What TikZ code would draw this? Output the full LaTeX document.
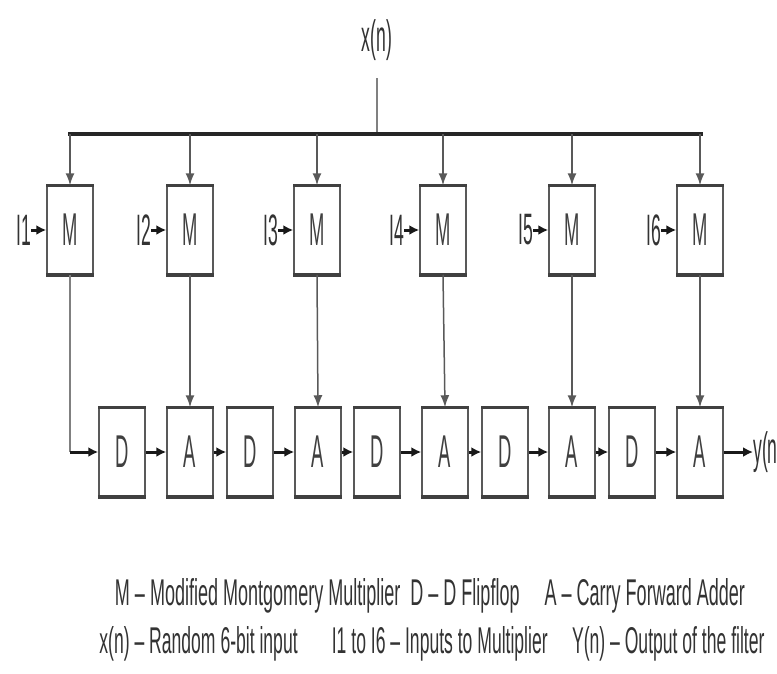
\documentclass[tikz,border=0pt]{standalone}
\usepackage{fontspec}
\setmainfont{Liberation Sans}[FakeStretch=0.4]
\usetikzlibrary{arrows.meta}
\begin{document}
\begin{tikzpicture}[x=1pt,y=-1pt,
  blk/.style={draw=black!65,line width=1.5pt,fill=white,minimum width=46pt,minimum height=88pt,inner sep=0pt,font=\fontsize{46}{48}\selectfont,text=black!75},
  lbl/.style={font=\fontsize{44}{46}\selectfont,text=black!80,inner sep=0pt},
  heavy/.style={line width=3pt,draw=black!90,-{Latex[length=10pt,width=10pt]}},
  slim/.style={line width=1.5pt,draw=black!65,-{Latex[length=12pt,width=9pt]}},
  wire/.style={line width=1.5pt,draw=black!50},
  edge/.style={line width=3.5pt,draw=black!75}
]
\useasboundingbox (0,0) rectangle (777,673);
% input
\node[lbl] (xn) at (377,40) {x(n)};
\coordinate (bl) at (68,134);
\coordinate (br) at (703,134);
\coordinate (bc) at (377,134);
\draw[wire] (377,78) -- (bc);
\draw[line width=3.5pt,black!85] (bl) -- (br);
% multipliers
\foreach \i/\x in {1/70,2/190,3/317,4/443,5/572,6/700}{
  \node[blk] (m\i) at (\x,230) {M};
  \draw[edge] (m\i.north west) -- (m\i.north east);
  \draw[edge] (m\i.south west) -- (m\i.south east);
  \coordinate (t\i) at (\x,134);
  \draw[slim] (t\i) -- (m\i.north);
  \node[lbl,anchor=east] (in\i) at (\x-39,230) {I\i};
  \draw[heavy] (in\i.east) -- (m\i.west);
}
% bottom row
\foreach \i/\x in {1/122,2/250,3/377,4/505,5/632}{
  \node[blk] (d\i) at (\x,452) {D};
  \draw[edge] (d\i.north west) -- (d\i.north east);
  \draw[edge] (d\i.south west) -- (d\i.south east);
}
\foreach \i/\x in {1/190,2/318,3/445,4/572,5/700}{
  \node[blk] (a\i) at (\x,452) {A};
  \draw[edge] (a\i.north west) -- (a\i.north east);
  \draw[edge] (a\i.south west) -- (a\i.south east);
}
% M1 to D1
\coordinate (c1) at (m1.south |- d1.west);
\draw[wire] (m1.south) -- (c1);
\draw[heavy] (c1) -- (d1.west);
% M2..M6 to adders
\draw[slim] (m2.south) -- (a1.north);
\draw[slim] (m3.south) -- (a2.north);
\draw[slim] (m4.south) -- (a3.north);
\draw[slim] (m5.south) -- (a4.north);
\draw[slim] (m6.south) -- (a5.north);
% chain
\draw[heavy] (d1.east) -- (a1.west);
\draw[heavy] (a1.east) -- (d2.west);
\draw[heavy] (d2.east) -- (a2.west);
\draw[heavy] (a2.east) -- (d3.west);
\draw[heavy] (d3.east) -- (a3.west);
\draw[heavy] (a3.east) -- (d4.west);
\draw[heavy] (d4.east) -- (a4.west);
\draw[heavy] (a4.east) -- (d5.west);
\draw[heavy] (d5.east) -- (a5.west);
\node[lbl,anchor=west] (yn) at (753,452) {y(n};
\draw[heavy] (a5.east) -- (yn.west);
% legend
\node[inner sep=0pt,text=black!80] (leg1) at (430,596) {\resizebox{630pt}{27pt}{M -- Modified Montgomery Multiplier~~D -- D Flipflop~~~~~A -- Carry Forward Adder}};
\node[inner sep=0pt,text=black!80] (leg2) at (432,644) {\resizebox{665pt}{27pt}{x(n) -- Random 6-bit input~~~~~~~I1 to I6 -- Inputs to Multiplier~~~~~Y(n) -- Output of the filter}};
\end{tikzpicture}
\end{document}
